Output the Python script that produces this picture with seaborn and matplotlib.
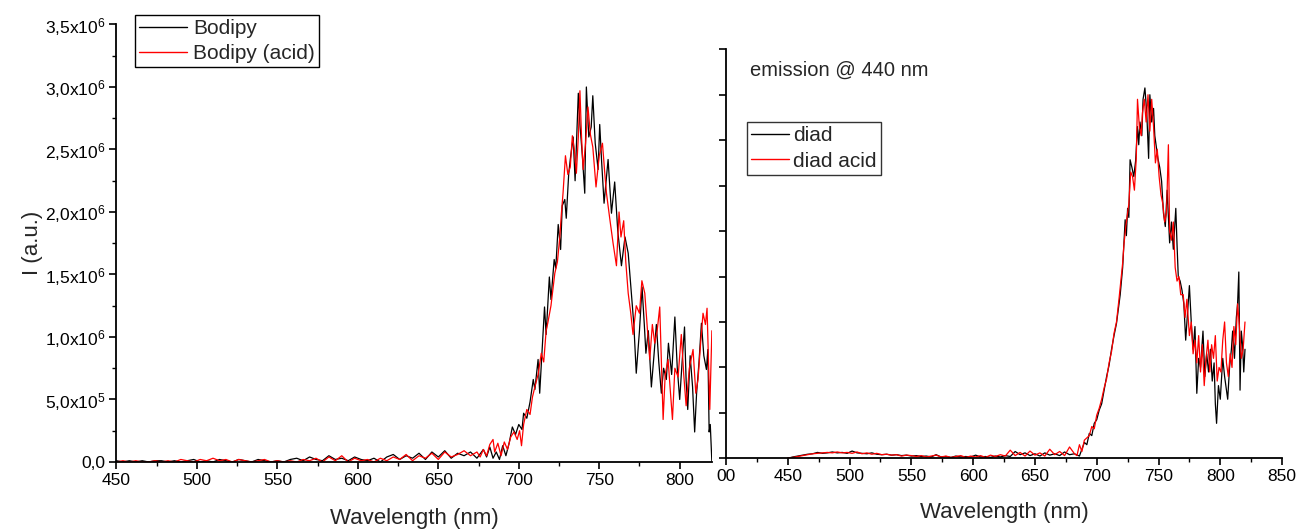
import numpy as np
import pandas as pd
import matplotlib
matplotlib.use("Agg")
import matplotlib.pyplot as plt
from matplotlib.ticker import MultipleLocator, FixedLocator, FuncFormatter
from matplotlib.lines import Line2D
import seaborn as sns

# ---------------- data ----------------
# Left panel: Bodipy / Bodipy (acid), intensity in units of 1e6
base_wl_left = np.arange(450, 675, 4)
bodipy_base = [0.01, 0.00, 0.01, 0.00, 0.01, 0.00, 0.01, 0.01, 0.00, 0.01, 0.00, 0.01, 0.02, 0.00,
               0.01, 0.00, 0.02, 0.01, 0.00, 0.02, 0.01, 0.00, 0.02, 0.01, 0.00, 0.01, 0.00, 0.02,
               0.03, 0.01, 0.04, 0.02, 0.01, 0.05, 0.02, 0.03, 0.01, 0.04, 0.02, 0.01, 0.03, 0.00,
               0.04, 0.06, 0.02, 0.05, 0.03, 0.07, 0.02, 0.08, 0.04, 0.09, 0.03, 0.07, 0.05, 0.08, 0.03]
bodipy_acid_base = [0.00, 0.01, 0.00, 0.01, 0.00, 0.00, 0.01, 0.00, 0.01, 0.00, 0.02, 0.01, 0.00, 0.02,
                    0.01, 0.03, 0.01, 0.02, 0.00, 0.02, 0.01, 0.00, 0.01, 0.02, 0.00, 0.01, 0.00, 0.01,
                    0.00, 0.02, 0.01, 0.03, 0.00, 0.04, 0.01, 0.05, 0.00, 0.03, 0.01, 0.02, 0.00, 0.03,
                    0.01, 0.04, 0.02, 0.06, 0.01, 0.05, 0.03, 0.07, 0.02, 0.08, 0.04, 0.06, 0.09, 0.05, 0.08]

bodipy_wl = [678, 680, 682, 684, 686, 688, 690, 692, 694, 696, 698, 700, 702, 703, 705, 707, 709, 710,
             712, 713, 714, 716, 717, 719, 720, 722, 723, 724.5, 726, 727, 728.6, 729.5, 731, 732,
             733.8, 735, 737, 738, 739.5, 741, 742, 743.5, 745, 746, 747.5, 749.3, 750.3, 751.5, 753,
             755.5, 757.6, 759.6, 761.5, 763.8, 766, 768, 770, 771.5, 773, 775, 776.6, 778, 779,
             780.5, 782.4, 784, 785.5, 787, 788.6, 790, 791.7, 793, 795, 797, 798.5, 800, 801.5, 803,
             804, 805, 806.5, 808, 809.3, 810.5, 812, 813.5, 815, 816.6, 817.5, 818.3, 819, 820]
bodipy_int = [0.10, 0.04, 0.12, 0.03, 0.08, 0.02, 0.13, 0.05, 0.15, 0.28, 0.22, 0.30, 0.26, 0.39,
              0.35, 0.48, 0.66, 0.58, 0.82, 0.55, 0.78, 1.24, 1.02, 1.48, 1.30, 1.62, 1.55, 1.90,
              1.70, 2.05, 2.10, 1.95, 2.30, 2.42, 2.60, 2.25, 2.95, 2.70, 2.45, 2.15, 3.00, 2.60,
              2.68, 2.93, 2.55, 2.34, 2.70, 2.40, 2.07, 2.42, 1.99, 2.24, 1.85, 1.57, 1.80, 1.67,
              1.35, 1.10, 0.71, 1.05, 1.40, 1.10, 0.87, 1.05, 0.60, 0.85, 1.10, 0.80, 0.55, 0.75,
              0.66, 0.95, 0.70, 1.16, 0.75, 0.50, 0.80, 1.08, 0.65, 0.42, 0.85, 0.60, 0.24, 0.55,
              0.80, 1.11, 0.85, 0.74, 0.90, 0.24, 0.30, 0.00]

bodipy_acid_wl = [676, 678, 680, 682, 684, 685, 687, 689, 691, 693, 695, 697, 699, 700.5, 701.7, 703,
                  705, 707, 708.5, 710, 712, 714, 715.5, 717, 718, 720, 722.4, 724, 725.5, 726.5,
                  727.5, 729, 730.5, 732, 733.3, 734.5, 735.8, 737, 738, 739, 740, 741.5, 743, 744.5,
                  746, 748, 750, 752, 753.5, 754.5, 756.5, 758.6, 760.7, 762.3, 763.5, 765.2, 766.5,
                  768, 769.5, 771, 773, 775, 776.5, 778.3, 780, 781.4, 783, 784.5, 786, 787.6, 789.7,
                  791, 792.8, 794, 795.5, 797, 799, 801, 802.5, 804, 806, 808.3, 810, 811.4, 813,
                  814.5, 816, 817, 818.7, 820]
bodipy_acid_int = [0.04, 0.10, 0.05, 0.14, 0.18, 0.08, 0.15, 0.05, 0.16, 0.10, 0.20, 0.24, 0.18, 0.25,
                   0.13, 0.30, 0.42, 0.38, 0.52, 0.60, 0.70, 0.87, 0.80, 1.05, 1.11, 1.25, 1.51, 1.60,
                   1.80, 1.99, 2.15, 2.45, 2.30, 2.36, 2.61, 2.50, 2.31, 2.60, 2.97, 2.60, 2.34, 2.55,
                   2.84, 2.62, 2.52, 2.20, 2.45, 2.55, 2.30, 2.15, 1.95, 1.75, 1.57, 2.00, 1.80, 1.93,
                   1.60, 1.35, 1.20, 1.02, 1.25, 1.19, 1.45, 1.35, 1.05, 0.82, 1.10, 0.95, 1.05, 1.24,
                   0.34, 0.70, 0.82, 0.60, 0.34, 0.75, 0.68, 1.02, 0.70, 0.45, 0.75, 0.90, 0.55, 0.66,
                   0.95, 1.19, 1.10, 1.23, 0.42, 1.05]

# Right panel: diad / diad acid (arbitrary units, one unit per y tick)
base_wl_right = np.arange(450, 683, 4)
diad_base = [0.00, 0.03, 0.05, 0.07, 0.09, 0.10, 0.13, 0.11, 0.12, 0.14, 0.12, 0.13, 0.11, 0.16,
             0.12, 0.11, 0.10, 0.12, 0.09, 0.08, 0.09, 0.07, 0.08, 0.06, 0.07, 0.05, 0.06, 0.04,
             0.05, 0.03, 0.08, 0.03, 0.04, 0.02, 0.05, 0.03, 0.04, 0.03, 0.07, 0.03, 0.04, 0.02,
             0.05, 0.03, 0.06, 0.04, 0.15, 0.08, 0.12, 0.06, 0.10, 0.05, 0.12, 0.07, 0.10, 0.06,
             0.14, 0.08, 0.10]
diad_acid_base = [0.01, 0.02, 0.04, 0.06, 0.08, 0.10, 0.11, 0.12, 0.13, 0.12, 0.14, 0.12, 0.13, 0.11,
                  0.14, 0.10, 0.12, 0.09, 0.11, 0.08, 0.09, 0.07, 0.08, 0.05, 0.07, 0.06, 0.04, 0.06,
                  0.03, 0.05, 0.07, 0.03, 0.05, 0.02, 0.04, 0.06, 0.02, 0.05, 0.03, 0.06, 0.02, 0.07,
                  0.04, 0.08, 0.05, 0.18, 0.06, 0.13, 0.05, 0.16, 0.07, 0.12, 0.05, 0.20, 0.08, 0.15,
                  0.06, 0.25, 0.10]

diad_wl = [686, 688, 690, 692, 694, 696, 698, 700, 702, 704, 706, 708, 710, 712, 714, 716, 718, 719,
           721, 723, 724, 725, 726, 727, 728.5, 730, 731.5, 733, 734, 735, 736.5, 737.5, 739, 740.5,
           742, 743, 744.5, 746, 747, 748, 749.5, 751, 752.5, 754, 755.5, 757, 759, 760.5, 762, 764,
           765, 766, 767.5, 769, 770.5, 772, 773.5, 775, 776.5, 778, 779.5, 781, 782.5, 784, 786,
           787.5, 789, 790.5, 792, 793.5, 795, 796, 797, 798.5, 800, 802, 803.5, 805, 806, 807.5,
           809, 810, 811.5, 813, 814, 815, 816, 817, 818, 819, 820]
diad_int = [0.05, 0.20, 0.35, 0.30, 0.55, 0.50, 0.77, 0.85, 1.06, 1.20, 1.50, 1.80, 2.05, 2.40, 2.70,
            2.97, 3.40, 3.60, 4.20, 5.25, 4.90, 5.50, 5.30, 6.57, 6.40, 6.20, 6.55, 7.30, 6.90, 7.40,
            7.10, 7.90, 8.15, 7.60, 6.60, 8.00, 7.40, 7.70, 7.10, 6.90, 6.60, 6.40, 6.10, 5.40, 5.10,
            5.90, 4.74, 5.20, 4.60, 5.50, 4.70, 4.00, 3.90, 3.70, 3.40, 2.60, 3.20, 3.80, 3.00, 2.40,
            2.90, 1.43, 2.20, 2.00, 2.80, 1.80, 2.30, 1.90, 2.40, 1.70, 2.10, 1.20, 0.77, 1.60, 1.30,
            2.20, 1.80, 1.50, 1.30, 2.00, 2.40, 2.80, 2.20, 3.10, 3.40, 4.10, 1.50, 2.80, 2.50, 1.90,
            2.40]

diad_acid_wl = [684, 686, 688, 690, 692, 694, 696, 698, 700, 702, 704, 706, 708, 710, 712, 714, 716,
                718, 719.5, 721, 722, 723.5, 725, 726, 727.5, 729, 730.5, 732, 733, 734.5, 736, 737,
                738.5, 740, 741.5, 743, 744.5, 746, 747.5, 749, 750.5, 752, 753.5, 755, 756.5, 758,
                759, 760.5, 762, 763.5, 765, 766.5, 768, 770, 771.5, 773, 775, 776.5, 778, 779.5,
                781, 782.5, 784, 785.5, 787, 788.5, 790, 791.5, 793, 794.5, 796, 797.5, 799, 800.5,
                802, 803.5, 805, 806.5, 808, 809.5, 811, 812.5, 814, 815.5, 817, 818.5, 820]
diad_acid_int = [0.06, 0.30, 0.15, 0.40, 0.45, 0.50, 0.70, 0.65, 0.95, 1.10, 1.30, 1.55, 1.75, 2.10,
                 2.35, 2.75, 3.00, 3.50, 3.90, 4.30, 4.70, 5.10, 5.40, 5.60, 6.30, 6.20, 5.90, 6.60,
                 7.90, 7.30, 7.10, 7.60, 7.90, 7.40, 8.00, 7.20, 7.90, 7.30, 6.50, 6.80, 6.20, 5.80,
                 5.60, 5.20, 5.40, 6.90, 5.00, 4.80, 5.20, 4.20, 3.90, 4.00, 3.60, 3.60, 3.10, 3.50,
                 2.70, 3.00, 2.30, 2.60, 2.10, 2.70, 1.90, 2.50, 1.60, 2.20, 2.60, 1.90, 2.50, 2.20,
                 2.70, 1.70, 2.00, 1.90, 2.60, 3.00, 2.10, 1.80, 2.30, 2.00, 2.90, 2.50, 3.40, 2.90,
                 2.20, 2.40, 3.00]

left_labels = ["Bodipy", "Bodipy (acid)"]
right_labels = ["diad", "diad acid"]
right_xtick_labels = ["00", "450", "500", "550", "600", "650", "700", "750", "800", "850"]
annotation = "emission @ 440 nm"

# ---------------- style ----------------
sns.set_style("ticks")
plt.rcParams["font.family"] = ["Liberation Sans", "DejaVu Sans"]
plt.rcParams["mathtext.fontset"] = "custom"
plt.rcParams["mathtext.rm"] = "Liberation Sans"
plt.rcParams["mathtext.it"] = "Liberation Sans:italic"
plt.rcParams["mathtext.bf"] = "Liberation Sans:bold"

BLACK = "#000000"
RED = "#ff0000"
LW = 0.9

fig = plt.figure(figsize=(13.0, 5.29), dpi=100)
axL = fig.add_axes([0.0896, 0.1267, 0.458, 0.827])
axR = fig.add_axes([0.5585, 0.1336, 0.4277, 0.7732])


def make_df(wl_base, base, wl_peak, peak, scale):
    x = np.concatenate([np.asarray(wl_base, float), np.asarray(wl_peak, float)])
    y = np.concatenate([np.asarray(base, float), np.asarray(peak, float)]) * scale
    return pd.DataFrame({"Wavelength": x, "I": y})


dfL_b = make_df(base_wl_left, bodipy_base, bodipy_wl, bodipy_int, 1e6)
dfL_r = make_df(base_wl_left, bodipy_acid_base, bodipy_acid_wl, bodipy_acid_int, 1e6)
dfR_b = make_df(base_wl_right, diad_base, diad_wl, diad_int, 1.0)
dfR_r = make_df(base_wl_right, diad_acid_base, diad_acid_wl, diad_acid_int, 1.0)

sns.lineplot(data=dfL_b, x="Wavelength", y="I", ax=axL, color=BLACK, lw=LW,
             estimator=None, sort=False, legend=False)
sns.lineplot(data=dfL_r, x="Wavelength", y="I", ax=axL, color=RED, lw=LW,
             estimator=None, sort=False, legend=False)
sns.lineplot(data=dfR_b, x="Wavelength", y="I", ax=axR, color=BLACK, lw=LW,
             estimator=None, sort=False, legend=False)
sns.lineplot(data=dfR_r, x="Wavelength", y="I", ax=axR, color=RED, lw=LW,
             estimator=None, sort=False, legend=False)


def sci_fmt(v, pos):
    if abs(v) < 1e-9:
        return "0,0"
    e = int(np.floor(np.log10(abs(v))))
    m = v / 10 ** e
    return ("%.1f" % m).replace(".", ",") + "x10$^{%d}$" % e


TICK_FS = 12.5
LABEL_FS = 16

for ax in (axL, axR):
    sns.despine(ax=ax)
    for s in ("left", "bottom"):
        ax.spines[s].set_linewidth(1.3)
        ax.spines[s].set_color("black")
    ax.tick_params(which="major", direction="out", length=5, width=1.2, colors="black",
                   labelsize=TICK_FS, pad=3)
    ax.tick_params(which="minor", direction="out", length=3, width=1.0, colors="black")
    ax.set_facecolor("none")

# left axes
axL.set_xlim(450, 820)
axL.set_ylim(0, 3.5e6)
axL.xaxis.set_major_locator(MultipleLocator(50))
axL.xaxis.set_minor_locator(MultipleLocator(25))
axL.yaxis.set_major_locator(MultipleLocator(0.5e6))
axL.yaxis.set_minor_locator(MultipleLocator(0.25e6))
axL.yaxis.set_major_formatter(FuncFormatter(sci_fmt))
axL.set_xlabel("Wavelength (nm)", fontsize=LABEL_FS, labelpad=14)
axL.set_ylabel("I (a.u.)", fontsize=LABEL_FS, labelpad=1)

# right axes
axR.set_xlim(400, 850)
axR.set_ylim(0, 9)
axR.xaxis.set_major_locator(FixedLocator(list(range(400, 851, 50))))
axR.xaxis.set_minor_locator(MultipleLocator(25))
axR.set_xticklabels(right_xtick_labels)
axR.yaxis.set_major_locator(MultipleLocator(1))
axR.tick_params(axis="y", labelleft=False)
axR.set_xlabel("Wavelength (nm)", fontsize=LABEL_FS, labelpad=13)
axR.set_ylabel("")

# legends
hL = [Line2D([], [], color=BLACK, lw=1.0), Line2D([], [], color=RED, lw=1.0)]
legL = axL.legend(hL, left_labels, loc="upper left", bbox_to_anchor=(0.031, 1.022),
                  frameon=True, fancybox=False, shadow=False, fontsize=15,
                  handlelength=2.3, handletextpad=0.3, borderpad=0.2, labelspacing=0.3,
                  borderaxespad=0)
legL.get_frame().set_edgecolor("black")
legL.get_frame().set_linewidth(1.0)
legL.get_frame().set_alpha(1)

hR = [Line2D([], [], color=BLACK, lw=1.0), Line2D([], [], color=RED, lw=1.0)]
legR = axR.legend(hR, right_labels, loc="upper left", bbox_to_anchor=(0.038, 0.822),
                  frameon=True, fancybox=False, shadow=False, fontsize=15,
                  handlelength=1.8, handletextpad=0.2, borderpad=0.2, labelspacing=0.3,
                  borderaxespad=0)
legR.get_frame().set_edgecolor("black")
legR.get_frame().set_linewidth(1.0)

axR.text(0.043, 0.949, annotation, transform=axR.transAxes, fontsize=14.5,
         ha="left", va="center")

fig.savefig("out.png", dpi=100)
